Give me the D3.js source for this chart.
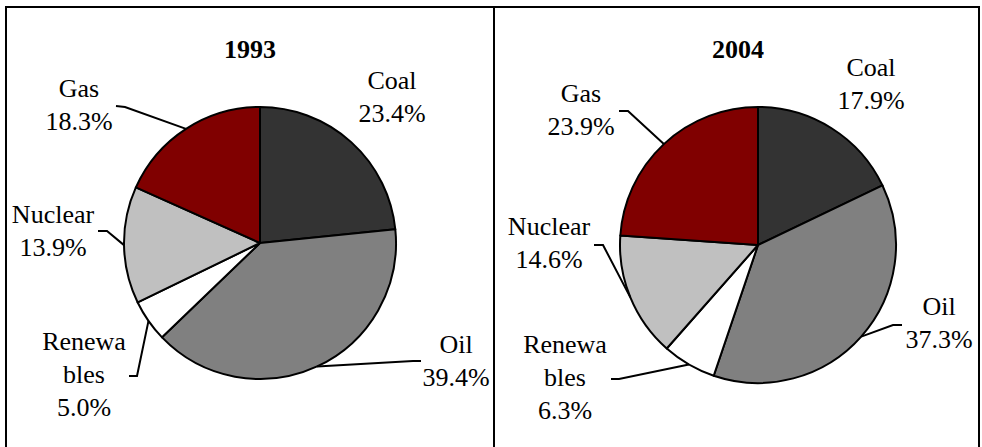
<!DOCTYPE html>
<html>
<head>
<meta charset="utf-8">
<script src="https://cdn.jsdelivr.net/npm/d3@7/dist/d3.min.js"></script>
<style>
  html, body { margin: 0; padding: 0; background: #fff; }
  svg { display: block; }
  text { font-family: "Liberation Serif", "Times New Roman", "DejaVu Serif", serif; fill: #000; }
</style>
</head>
<body>
<div id="chart"></div>
<script>
// fuel categories, in drawing order (clockwise from 12 o'clock)
const fuels = ["Coal", "Oil", "Renewables", "Nuclear", "Gas"];
const labelLines = [["Coal"], ["Oil"], ["Renewa", "bles"], ["Nuclear"], ["Gas"]];
const years = ["1993", "2004"];
const share1993 = [23.4, 39.4, 5.0, 13.9, 18.3];
const share2004 = [17.9, 37.3, 6.3, 14.6, 23.9];
const fuelColors = ["#333333", "#808080", "#ffffff", "#c0c0c0", "#800000"];

// layout for each panel: centre, radius, label anchors and leader elbows
const panels = [
  { year: years[0], values: share1993, cx: 260, cy: 243, r: 136, titleX: 250,
    labels: [
      { x: 392, y: 89 },
      { x: 456, y: 353, elbow: [[421, 361], [413, 361]] },
      { x: 84, y: 350, elbow: [[129, 376], [137, 376]] },
      { x: 53, y: 223, elbow: [[98, 231], [107, 231]] },
      { x: 79, y: 97, elbow: [[116, 106], [125, 107]] }
    ] },
  { year: years[1], values: share2004, cx: 758, cy: 245, r: 138, titleX: 738,
    labels: [
      { x: 871, y: 76 },
      { x: 939, y: 315, elbow: [[902, 325], [893, 325]] },
      { x: 565, y: 353, elbow: [[611, 379], [619, 379]] },
      { x: 549, y: 235, elbow: [[594, 245], [603, 245]] },
      { x: 581, y: 102, elbow: [[619, 111], [628, 111]] }
    ] }
];

const width = 982, height = 447;
const fontSize = 26, lineGap = 33;

const svg = d3.select("#chart").append("svg")
  .attr("width", width)
  .attr("height", height);

// frame
const frame = svg.append("g").attr("fill", "none").attr("stroke", "#000").attr("stroke-width", 2);
frame.append("path").attr("d", "M6," + (height + 2) + "V7H979V" + (height + 2));
frame.append("line").attr("x1", 494).attr("x2", 494).attr("y1", 7).attr("y2", height + 2);

const pie = d3.pie().sort(null).value(d => d);

panels.forEach(p => {
  const g = svg.append("g");
  const arcs = pie(p.values);
  const arc = d3.arc().innerRadius(0).outerRadius(p.r);
  const edge = d3.arc().innerRadius(p.r).outerRadius(p.r);

  g.append("g")
    .attr("transform", "translate(" + p.cx + "," + p.cy + ")")
    .selectAll("path")
    .data(arcs)
    .enter()
    .append("path")
    .attr("d", arc)
    .attr("fill", (d, i) => fuelColors[i])
    .attr("stroke", "#000")
    .attr("stroke-width", 2)
    .attr("stroke-linejoin", "round");

  // year heading
  g.append("text")
    .attr("x", p.titleX)
    .attr("y", 58)
    .attr("text-anchor", "middle")
    .attr("font-weight", "bold")
    .attr("font-size", fontSize)
    .text(p.year);

  // leader lines from label elbow to the edge of the slice
  arcs.forEach((d, i) => {
    const lab = p.labels[i];
    if (!lab.elbow) return;
    const c = edge.centroid(d);
    const pts = lab.elbow.concat([[p.cx + c[0], p.cy + c[1]]]);
    g.append("path")
      .attr("d", d3.line()(pts))
      .attr("fill", "none")
      .attr("stroke", "#000")
      .attr("stroke-width", 2);
  });

  // labels
  arcs.forEach((d, i) => {
    const lab = p.labels[i];
    const lines = labelLines[i].concat([d3.format(".1f")(p.values[i]) + "%"]);
    const t = g.append("text")
      .attr("text-anchor", "middle")
      .attr("font-size", fontSize);
    lines.forEach((s, k) => {
      t.append("tspan")
        .attr("x", lab.x)
        .attr("y", lab.y + k * lineGap)
        .text(s);
    });
  });
});
</script>
</body>
</html>
